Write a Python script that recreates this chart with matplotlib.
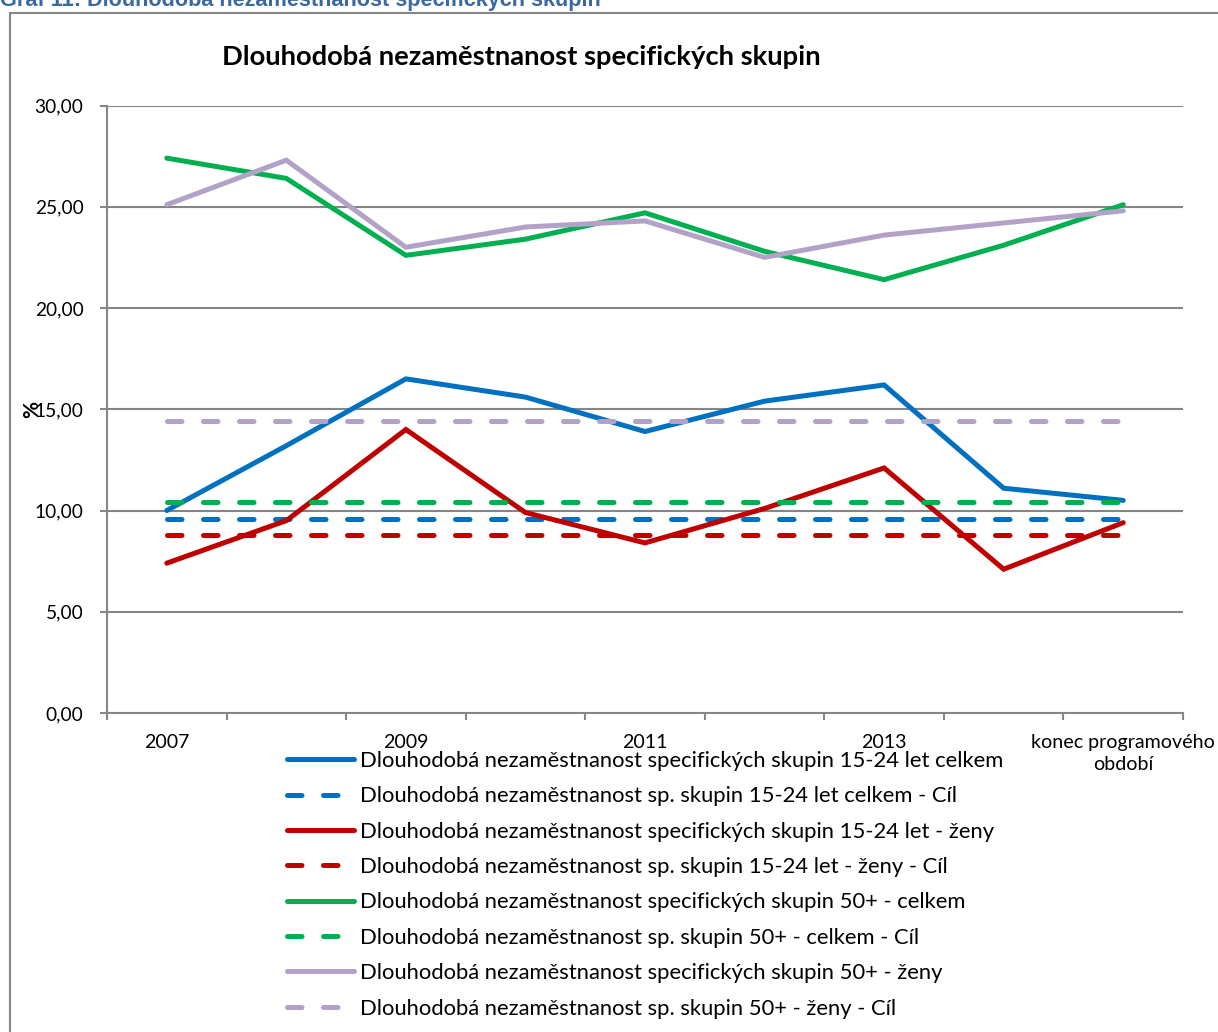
import matplotlib.pyplot as plt
from matplotlib.patches import Rectangle

# data
categories = ['2007', '2008', '2009', '2010', '2011', '2012', '2013', '2014',
              'konec programového\nobdobí']
youth_total = [10.0, 13.2, 16.5, 15.6, 13.9, 15.4, 16.2, 11.1, 10.5]
youth_women = [7.4, 9.5, 14.0, 9.9, 8.4, 10.1, 12.1, 7.1, 9.4]
older_total = [27.4, 26.4, 22.6, 23.4, 24.7, 22.8, 21.4, 23.1, 25.1]
older_women = [25.1, 27.3, 23.0, 24.0, 24.3, 22.5, 23.6, 24.2, 24.8]
youth_total_target = 9.6
youth_women_target = 8.8
older_total_target = 10.4
older_women_target = 14.4

labels = [
    'Dlouhodobá nezaměstnanost specifických skupin 15-24 let celkem',
    'Dlouhodobá nezaměstnanost sp. skupin 15-24 let celkem - Cíl',
    'Dlouhodobá nezaměstnanost specifických skupin 15-24 let - ženy',
    'Dlouhodobá nezaměstnanost sp. skupin 15-24 let - ženy - Cíl',
    'Dlouhodobá nezaměstnanost specifických skupin 50+ - celkem',
    'Dlouhodobá nezaměstnanost sp. skupin 50+ - celkem - Cíl',
    'Dlouhodobá nezaměstnanost specifických skupin 50+ - ženy',
    'Dlouhodobá nezaměstnanost sp. skupin 50+ - ženy - Cíl',
]

blue = '#0070C0'
red = '#C00000'
green = '#00B050'
purple = '#B3A2C7'
gray = '#868686'

plt.rcParams['font.family'] = ['Lato', 'DejaVu Sans']

W, H = 1218, 1032
fig = plt.figure(figsize=(W / 100, H / 100), dpi=100)

# outer chart frame (right and bottom edges run off the picture)
fig.patches.append(Rectangle((10 / W, -0.1), 1.2, 1 - 13 / H + 0.1,
                             transform=fig.transFigure, fill=False,
                             edgecolor=gray, linewidth=1.5))

fig.text(0, 1 - 6 / H, 'Graf 11: Dlouhodobá nezaměstnanost specifických skupin',
         family='Liberation Sans', fontweight='bold', fontsize=15.6,
         color='#3A68A3', ha='left', va='baseline')

ax = fig.add_axes([107 / W, 1 - 713 / H, (1183 - 107) / W, (713 - 105.5) / H])

x = list(range(len(categories)))
n = len(categories)
lw = 3.6
series = [
    (youth_total, blue, False),
    ([youth_total_target] * n, blue, True),
    (youth_women, red, False),
    ([youth_women_target] * n, red, True),
    (older_total, green, False),
    ([older_total_target] * n, green, True),
    (older_women, purple, False),
    ([older_women_target] * n, purple, True),
]
handles = []
for (vals, col, dashed), lab in zip(series, labels):
    if dashed:
        h, = ax.plot(x, vals, color=col, lw=lw, dashes=(2.9, 4.3),
                     dash_capstyle='round', label=lab)
    else:
        h, = ax.plot(x, vals, color=col, lw=lw, solid_capstyle='round',
                     solid_joinstyle='miter', label=lab)
    handles.append(h)

ax.set_xlim(-0.5, n - 0.5)
ax.set_ylim(0, 30)
ax.set_yticks(range(0, 31, 5))
ax.set_yticklabels(['%d,00' % v for v in range(0, 31, 5)])
ax.yaxis.grid(True, color=gray, lw=1.5)
ax.set_axisbelow(True)

ax.set_xticks([i - 0.5 for i in range(n + 1)])
ax.set_xticklabels([])
ax.set_xticks(x[::2], minor=True)
ax.set_xticklabels(categories[::2], minor=True, linespacing=1.4)
ax.tick_params(axis='x', which='minor', length=0, pad=15, labelsize=14.1)
ax.tick_params(axis='x', which='major', length=5, color=gray, width=1.5)
ax.tick_params(axis='y', length=5, color=gray, width=1.5, pad=12, labelsize=13.8)

for s in ['top', 'right']:
    ax.spines[s].set_visible(False)
for s in ['left', 'bottom']:
    ax.spines[s].set_color(gray)
    ax.spines[s].set_linewidth(1.5)

fig.text(521 / W, 1 - 57 / H, 'Dlouhodobá nezaměstnanost specifických skupin',
         fontweight='bold', fontsize=19.7, ha='center', va='center')
fig.text(32 / W, 1 - 409 / H, '%', fontweight='bold', fontsize=15,
         rotation=90, ha='center', va='center')

fig.legend(handles=handles, loc='upper left',
           bbox_to_anchor=(276 / W, 1 - 740 / H), frameon=False,
           fontsize=15.8, handlelength=3.05, handletextpad=0.28,
           labelspacing=0.70, borderpad=0)

fig.savefig('out.png', dpi=100)
